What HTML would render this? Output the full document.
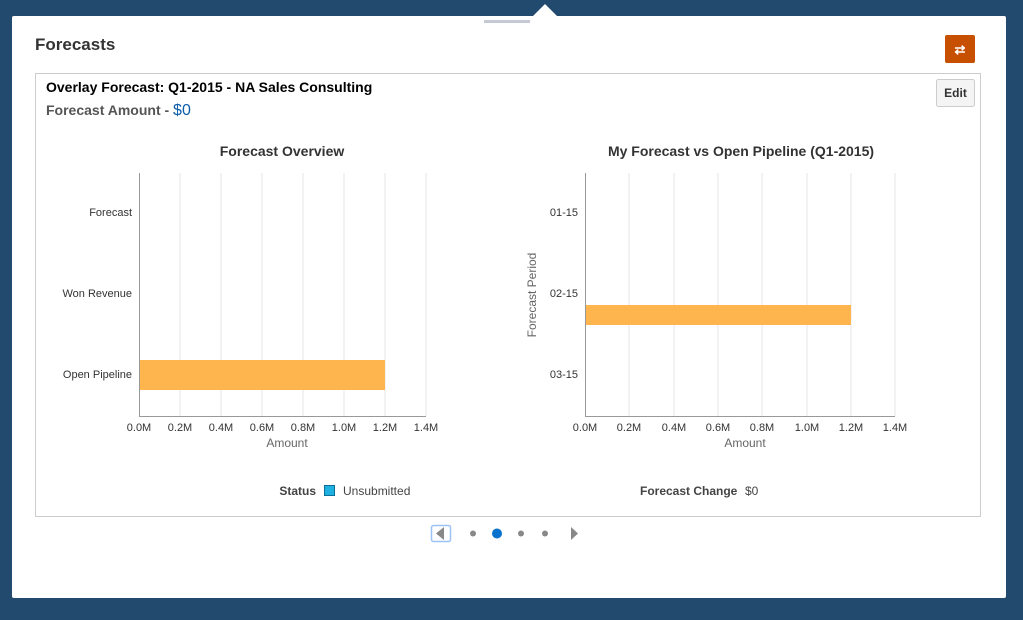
<!DOCTYPE html>
<html><head><meta charset="utf-8"><style>
body{margin:0;width:1023px;height:615px;overflow:hidden;background:#214a6e;font-family:"Liberation Sans",sans-serif}
</style></head><body>
<svg width="1023" height="615" xmlns="http://www.w3.org/2000/svg" font-family="Liberation Sans, sans-serif">
<rect width="1023" height="615" fill="#214a6e"/>
<rect x="12" y="16" width="994" height="582" fill="#fff" rx="2"/>
<polygon points="533,16 545,4 557,16" fill="#fff"/>
<rect x="484" y="20" width="46" height="3" fill="#c5c9d3"/>
<text x="35" y="50" font-size="17" font-weight="bold" fill="#333">Forecasts</text>
<rect x="945" y="35" width="30" height="28" rx="2" fill="#c75000"/>
<text x="960" y="54" font-size="13" fill="#fff" text-anchor="middle" font-weight="bold">⇄</text>
<rect x="35.5" y="73.5" width="945" height="443" fill="#fff" stroke="#ccc"/>
<text x="46" y="92" font-size="14" font-weight="bold" fill="#000">Overlay Forecast: Q1-2015 - NA Sales Consulting</text>
<text x="46" y="115" font-size="14" font-weight="bold" fill="#555">Forecast Amount - <tspan fill="#0b5cad" font-weight="normal" font-size="16">$0</tspan></text>
<rect x="936.5" y="79.5" width="38" height="27" rx="2" fill="#f4f4f4" stroke="#ccc"/>
<text x="955.5" y="97" font-size="12" font-weight="bold" fill="#333" text-anchor="middle">Edit</text>

<text x="282" y="156" font-size="14" font-weight="bold" fill="#333" text-anchor="middle">Forecast Overview</text>
<g stroke="#e4e4e4">
<line x1="180" y1="173" x2="180" y2="416"/><line x1="221" y1="173" x2="221" y2="416"/><line x1="262" y1="173" x2="262" y2="416"/><line x1="303" y1="173" x2="303" y2="416"/><line x1="344" y1="173" x2="344" y2="416"/><line x1="385" y1="173" x2="385" y2="416"/><line x1="426" y1="173" x2="426" y2="416"/>
</g>
<rect x="139" y="360" width="246" height="30" fill="#ffb54d"/>
<line x1="139.5" y1="173" x2="139.5" y2="416" stroke="#999"/>
<line x1="139" y1="416.5" x2="426" y2="416.5" stroke="#999"/>
<g font-size="11" fill="#333" text-anchor="end">
<text x="132" y="216">Forecast</text><text x="132" y="297">Won Revenue</text><text x="132" y="378">Open Pipeline</text></g>
<g font-size="11" fill="#333" text-anchor="middle">
<text x="139" y="431">0.0M</text><text x="180" y="431">0.2M</text><text x="221" y="431">0.4M</text><text x="262" y="431">0.6M</text><text x="303" y="431">0.8M</text><text x="344" y="431">1.0M</text><text x="385" y="431">1.2M</text><text x="426" y="431">1.4M</text></g>
<text x="287" y="447" font-size="12" fill="#666" text-anchor="middle">Amount</text>

<text x="741" y="156" font-size="14" font-weight="bold" fill="#333" text-anchor="middle">My Forecast vs Open Pipeline (Q1-2015)</text>
<g stroke="#e4e4e4">
<line x1="629" y1="173" x2="629" y2="416"/><line x1="674" y1="173" x2="674" y2="416"/><line x1="718" y1="173" x2="718" y2="416"/><line x1="762" y1="173" x2="762" y2="416"/><line x1="807" y1="173" x2="807" y2="416"/><line x1="851" y1="173" x2="851" y2="416"/><line x1="895" y1="173" x2="895" y2="416"/>
</g>
<rect x="585" y="305" width="266" height="20" fill="#ffb54d"/>
<line x1="585.5" y1="173" x2="585.5" y2="416" stroke="#999"/>
<line x1="585" y1="416.5" x2="895" y2="416.5" stroke="#999"/>
<g font-size="11" fill="#333" text-anchor="end">
<text x="578" y="216">01-15</text><text x="578" y="297">02-15</text><text x="578" y="378">03-15</text></g>
<text transform="translate(536,295) rotate(-90)" font-size="12" fill="#666" text-anchor="middle">Forecast Period</text>
<g font-size="11" fill="#333" text-anchor="middle">
<text x="585" y="431">0.0M</text><text x="629" y="431">0.2M</text><text x="674" y="431">0.4M</text><text x="718" y="431">0.6M</text><text x="762" y="431">0.8M</text><text x="807" y="431">1.0M</text><text x="851" y="431">1.2M</text><text x="895" y="431">1.4M</text></g>
<text x="745" y="447" font-size="12" fill="#666" text-anchor="middle">Amount</text>

<text x="316" y="495" font-size="12" font-weight="bold" fill="#444" text-anchor="end">Status</text>
<rect x="324.5" y="485.5" width="10" height="10" fill="#1eb0e0" stroke="#0a6e99"/>
<text x="343" y="495" font-size="12" fill="#444">Unsubmitted</text>
<text x="640" y="495" font-size="12" font-weight="bold" fill="#444">Forecast Change</text>
<text x="745" y="495" font-size="12" fill="#444">$0</text>

<rect x="431.5" y="525.5" width="19" height="16" rx="2" fill="#fff" stroke="#9cc3f5" stroke-width="1.5"/>
<polygon points="436,533.5 444,527 444,540" fill="#888"/>
<circle cx="473" cy="533.5" r="3" fill="#888"/>
<circle cx="497" cy="533.5" r="5" fill="#0572ce"/>
<circle cx="521" cy="533.5" r="3" fill="#888"/>
<circle cx="545" cy="533.5" r="3" fill="#888"/>
<polygon points="571,527 578,533.5 571,540" fill="#888"/>
</svg>
</body></html>
